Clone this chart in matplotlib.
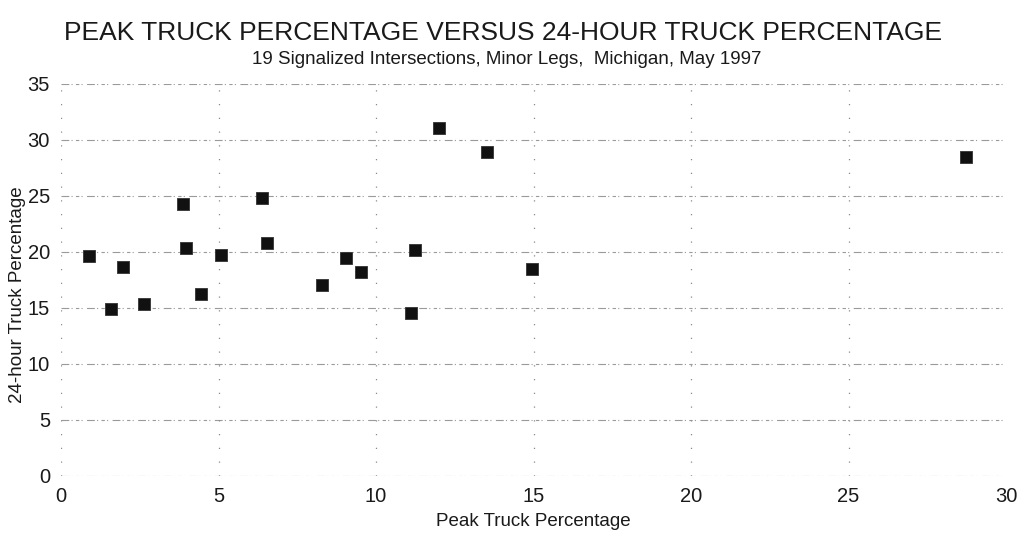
import matplotlib
matplotlib.use("Agg")
import matplotlib.pyplot as plt

plt.rcParams['font.family'] = ['Liberation Sans', 'DejaVu Sans']

# Peak-hour vs 24-hour truck percentage, minor legs of 19 signalized intersections
peak_truck_pct = [0.89, 1.58, 1.98, 2.64, 3.88, 3.97, 4.44, 5.08, 6.38, 6.54,
                  8.30, 9.05, 9.53, 11.12, 11.25, 11.99, 13.51, 14.94, 28.74]
daily_truck_pct = [19.6, 14.9, 18.6, 15.3, 24.2, 20.3, 16.2, 19.7, 24.8, 20.8,
                   17.0, 19.4, 18.2, 14.5, 20.1, 31.0, 28.9, 18.4, 28.4]

x_ticks = [0, 5, 10, 15, 20, 25, 30]
y_ticks = [0, 5, 10, 15, 20, 25, 30, 35]

title = "PEAK TRUCK PERCENTAGE VERSUS 24-HOUR TRUCK PERCENTAGE"
subtitle = "19 Signalized Intersections, Minor Legs,  Michigan, May 1997"
x_label = "Peak Truck Percentage"
y_label = "24-hour Truck Percentage"

W, H = 1025, 534
fig = plt.figure(figsize=(W / 100, H / 100), dpi=100)
fig.patch.set_facecolor("white")

# axes frame in pixels: x from 61 to 1006, y from 83.5 (top) to 475.5 (bottom)
left, right, top, bottom = 61, 1006, 83.5, 475.5
ax = fig.add_axes([left / W, 1 - bottom / H, (right - left) / W, (bottom - top) / H])

ax.set_xlim(0, 30)
ax.set_ylim(0, 35)

# horizontal grid: broken light-grey lines
for yv in y_ticks:
    ax.axhline(yv, color="#9a9a9a", lw=0.8,
               linestyle=(0, (7, 2, 1, 3, 3, 2, 1, 4)), zorder=1)
# vertical grid: sparse dots
for xv in x_ticks[:-1]:
    ax.axvline(xv, color="#8a8a8a", lw=0.9, linestyle=(0, (1, 10)), zorder=1)

ax.scatter(peak_truck_pct, daily_truck_pct, marker="s", s=80,
           facecolor="#111111", edgecolor="#333333", linewidths=0.6, zorder=3)

for sp in ax.spines.values():
    sp.set_visible(False)

ax.set_xticks(x_ticks)
ax.set_yticks(y_ticks)
ax.tick_params(axis="both", length=0, labelsize=14.5, colors="#1a1a1a")
ax.tick_params(axis="x", pad=8)
ax.tick_params(axis="y", pad=8)

ax.set_xlabel(x_label, fontsize=13.5, color="#1a1a1a")
ax.xaxis.set_label_coords(0.5, -(522 - bottom) / (bottom - top))
ax.xaxis.label.set_va("center")

ax.set_ylabel(y_label, fontsize=13.5, color="#1a1a1a")
ax.yaxis.set_label_coords((18 - left) / (right - left), (bottom - 295) / (bottom - top))
ax.yaxis.label.set_va("center")

fig.text(503 / W, 1 - 33 / H, title, ha="center", va="center",
         fontsize=19, color="#1a1a1a")
fig.text(507 / W, 1 - 59 / H, subtitle, ha="center", va="center",
         fontsize=13.5, color="#1a1a1a")

fig.savefig("out.png", dpi=100, facecolor="white")
